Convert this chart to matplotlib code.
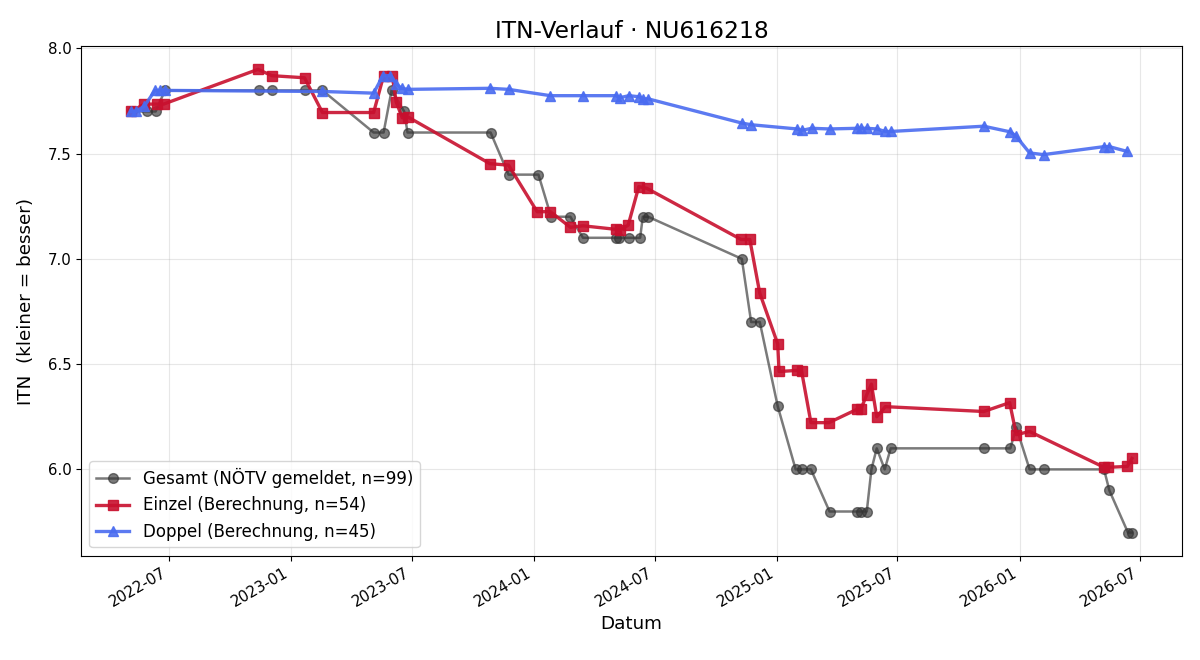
import numpy as np
import pandas as pd
import matplotlib
matplotlib.use("Agg")
import matplotlib.pyplot as plt
import matplotlib.dates as mdates

# Gesamt (NÖTV gemeldet)
gesamt_dates = ["2022-05-06", "2022-05-29", "2022-06-11", "2022-06-25",
                "2022-11-13", "2022-12-03", "2023-01-21", "2023-02-17",
                "2023-05-05", "2023-05-20", "2023-06-01", "2023-06-20", "2023-06-25",
                "2023-10-28", "2023-11-24", "2024-01-08", "2024-01-27", "2024-02-25",
                "2024-03-15", "2024-05-04", "2024-05-08", "2024-05-23", "2024-06-09",
                "2024-06-13", "2024-06-21", "2024-11-09", "2024-11-23", "2024-12-06",
                "2025-01-02", "2025-01-29", "2025-02-07", "2025-02-21", "2025-03-21",
                "2025-05-01", "2025-05-07", "2025-05-16", "2025-05-23", "2025-05-31",
                "2025-06-12", "2025-06-21", "2025-11-08", "2025-12-18", "2025-12-27",
                "2026-01-16", "2026-02-06", "2026-05-08", "2026-05-16", "2026-06-13",
                "2026-06-19"]
gesamt_itn = [7.7, 7.7, 7.7, 7.8,
              7.8, 7.8, 7.8, 7.8,
              7.6, 7.6, 7.8, 7.7, 7.6,
              7.6, 7.4, 7.4, 7.2, 7.2,
              7.1, 7.1, 7.1, 7.1, 7.1,
              7.2, 7.2, 7.0, 6.7, 6.7,
              6.3, 6.0, 6.0, 6.0, 5.8,
              5.8, 5.8, 5.8, 6.0, 6.1,
              6.0, 6.1, 6.1, 6.1, 6.2,
              6.0, 6.0, 6.0, 5.9, 5.7,
              5.7]

# Einzel (Berechnung)
einzel_dates = ["2022-05-05", "2022-05-25", "2022-06-13", "2022-06-23",
                "2022-11-12", "2022-12-03", "2023-01-21", "2023-02-17",
                "2023-05-05", "2023-05-20", "2023-06-02", "2023-06-08", "2023-06-17",
                "2023-06-25", "2023-10-27", "2023-11-24", "2024-01-06", "2024-01-26",
                "2024-02-25", "2024-03-15", "2024-05-04", "2024-05-09", "2024-05-22",
                "2024-06-07", "2024-06-19", "2024-11-08", "2024-11-21", "2024-12-06",
                "2025-01-02", "2025-01-04", "2025-01-31", "2025-02-07", "2025-02-21",
                "2025-03-20", "2025-05-01", "2025-05-07", "2025-05-16", "2025-05-23",
                "2025-05-31", "2025-06-13", "2025-11-08", "2025-12-17", "2025-12-27",
                "2026-01-16", "2026-05-08", "2026-05-14", "2026-06-12", "2026-06-19"]
einzel_itn = [7.70, 7.735, 7.735, 7.735,
              7.90, 7.87, 7.86, 7.695,
              7.695, 7.87, 7.87, 7.745, 7.67,
              7.675, 7.452, 7.445, 7.224, 7.224,
              7.15, 7.157, 7.14, 7.135, 7.16,
              7.343, 7.335, 7.092, 7.092, 6.837,
              6.596, 6.465, 6.47, 6.465, 6.222,
              6.222, 6.285, 6.285, 6.355, 6.405,
              6.25, 6.298, 6.275, 6.317, 6.165,
              6.18, 6.01, 6.01, 6.014, 6.052]

# Doppel (Berechnung)
doppel_dates = ["2022-05-05", "2022-05-12", "2022-05-25", "2022-06-10", "2022-06-17",
                "2022-06-25", "2023-02-17", "2023-05-05", "2023-05-19", "2023-05-30",
                "2023-06-08", "2023-06-16", "2023-06-25", "2023-10-27", "2023-11-24",
                "2024-01-26", "2024-03-15", "2024-05-04", "2024-05-09", "2024-05-23",
                "2024-06-07", "2024-06-13", "2024-06-21", "2024-11-09", "2024-11-23",
                "2025-01-31", "2025-02-07", "2025-02-22", "2025-03-21", "2025-05-01",
                "2025-05-08", "2025-05-16", "2025-05-31", "2025-06-13", "2025-06-21",
                "2025-11-08", "2025-12-18", "2025-12-26", "2026-01-16", "2026-02-06",
                "2026-05-08", "2026-05-16", "2026-06-12"]
doppel_itn = [7.70, 7.70, 7.725, 7.80, 7.80,
              7.80, 7.795, 7.787, 7.87, 7.87,
              7.83, 7.81, 7.805, 7.81, 7.805,
              7.775, 7.775, 7.775, 7.765, 7.775,
              7.77, 7.76, 7.76, 7.645, 7.637,
              7.617, 7.61, 7.62, 7.617, 7.62,
              7.62, 7.62, 7.617, 7.605, 7.605,
              7.63, 7.603, 7.585, 7.503, 7.495,
              7.533, 7.533, 7.51]

fig, ax = plt.subplots(figsize=(12, 6.6), dpi=100)
fig.subplots_adjust(left=0.0675, right=0.985, top=0.930, bottom=0.158)

ax.plot(pd.to_datetime(gesamt_dates), gesamt_itn, color="#333333", alpha=0.65,
        marker="o", markersize=7, linewidth=1.8,
        label="Gesamt (NÖTV gemeldet, n=99)")
ax.plot(pd.to_datetime(einzel_dates), einzel_itn, color="#c8102e", alpha=0.9,
        marker="s", markersize=7.5, linewidth=2.4,
        label="Einzel (Berechnung, n=54)")
ax.plot(pd.to_datetime(doppel_dates), doppel_itn, color="#4a6cf0", alpha=0.9,
        marker="^", markersize=7.5, linewidth=2.4,
        label="Doppel (Berechnung, n=45)")

ax.xaxis.set_major_locator(mdates.MonthLocator(bymonth=[1, 7]))
ax.xaxis.set_major_formatter(mdates.DateFormatter("%Y-%m"))
for lbl in ax.get_xticklabels():
    lbl.set_rotation(30)
    lbl.set_ha("right")
ax.tick_params(labelsize=10.8)

ax.set_title("ITN-Verlauf · NU616218", fontsize=16.8)
ax.set_xlabel("Datum", fontsize=13.2)
ax.set_ylabel("ITN  (kleiner = besser)", fontsize=13.2)
ax.yaxis.set_label_coords(-0.042, 0.5)
ax.grid(True, alpha=0.3)
ax.legend(loc="lower left", fontsize=12)

fig.savefig("out.png")
